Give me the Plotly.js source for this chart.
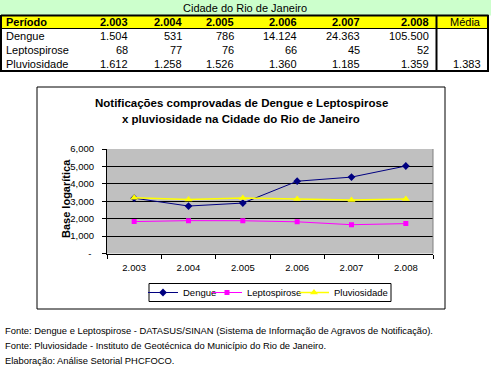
<!DOCTYPE html>
<html><head><meta charset="utf-8">
<script src="https://cdn.plot.ly/plotly-3.0.1.min.js"></script>
<style>html,body{margin:0;padding:0;background:#fff}#chart{width:491px;height:369px}</style>
</head><body><div id="chart"></div>
<script>
const years = ['2.003','2.004','2.005','2.006','2.007','2.008'];
const dengue = [1504, 531, 786, 14124, 24363, 105500];
const lepto = [68, 77, 76, 66, 45, 52];
const pluv = [1612, 1258, 1526, 1360, 1185, 1359];
const pluvMedia = 1383;
const rowNames = ['Dengue', 'Leptospirose', 'Pluviosidade'];
const yTickVals = [0, 1000, 2000, 3000, 4000, 5000, 6000];
const yTickText = ['-\u00a0', '1,000', '2,000', '3,000', '4,000', '5,000', '6,000'];
const tableTitle = 'Cidade do Rio de Janeiro';
const chartTitle = ['Notificações comprovadas de Dengue e Leptospirose', 'x pluviosidade na Cidade do Rio de Janeiro'];
const yTitle = 'Base logarítica';
const notes = ['Fonte: Dengue e Leptospirose - DATASUS/SINAN (Sistema de Informação de Agravos de Notificação).',
  'Fonte: Pluviosidade - Instituto de Geotécnica do Município do Rio de Janeiro.',
  'Elaboração: Análise Setorial PHCFOCO.'];

const W = 491, H = 369;
const px = x => x / W, py = y => 1 - y / H;
const fmt = v => String(v).replace(/\B(?=(\d{3})+(?!\d))/g, '.');
const logv = arr => arr.map(v => 1000 * Math.log10(v));
const FONT = 'Liberation Sans, Arial, sans-serif';

const shapes = [];
const ann = [];
function rect(x0, y0, x1, y1, fill, lc, lw, layer) {
  shapes.push({type: 'rect', xref: 'paper', yref: 'paper', x0: px(x0), x1: px(x1), y0: py(y0), y1: py(y1),
    fillcolor: fill || 'rgba(0,0,0,0)', line: {color: lc || 'rgba(0,0,0,0)', width: lw || 0}, layer: layer || 'above'});
}
function line(x0, y0, x1, y1, c, w) {
  shapes.push({type: 'line', xref: 'paper', yref: 'paper', x0: px(x0), x1: px(x1), y0: py(y0), y1: py(y1),
    line: {color: c, width: w}});
}
function text(t, x, y, anchor, size, bold, angle) {
  ann.push({text: bold ? '<b>' + t + '</b>' : t, x: px(x), y: py(y), xref: 'paper', yref: 'paper',
    xanchor: anchor, yanchor: 'middle', showarrow: false, textangle: angle || 0,
    font: {family: FONT, size: size, color: '#000'}});
}

// table
rect(0, 0, 491, 15.5, '#CCFFCC');
rect(1, 15.5, 488, 28.5, '#FFFF00');
line(1, 15.5, 488.5, 15.5, '#000', 2);
line(1, 28.5, 488.5, 28.5, '#000', 1);
line(1, 15, 1, 72, '#000', 2);
line(488, 15, 488, 72, '#000', 2);
line(0, 71, 489, 71, '#000', 2);
line(436.5, 15, 436.5, 71, '#000', 2);
text(tableTitle, 245, 8, 'center', 11);
text('Período', 4, 22, 'left', 11, true);
const colRight = [129, 183, 235, 298, 361, 430];
const rowY = [36, 50, 64];
years.forEach((y, i) => text(y, colRight[i] + 1, 22, 'right', 11, true));
text('Média', 483, 22, 'right', 11);
[dengue, lepto, pluv].forEach((arr, r) => {
  text(rowNames[r], 4, rowY[r], 'left', 11);
  arr.forEach((v, i) => text(fmt(v), colRight[i] + 1, rowY[r], 'right', 11));
});
text(fmt(pluvMedia), 483, rowY[2], 'right', 11);

// chart box
rect(37, 87, 445, 309, null, '#000', 1);
text(chartTitle[0], 241, 103, 'center', 11.5, true);
text(chartTitle[1], 241, 119, 'center', 11.5, true);
text(yTitle, 66, 199, 'center', 11, true, -90);
line(433, 149, 433, 253.5, '#808080', 1);
// legend frame
rect(149, 283.5, 391, 301.5, null, '#000', 1);

notes.forEach((t, i) => text(t, 3, 330 + i * 15, 'left', 9.4));

const traces = [
  {name: 'Dengue', x: years, y: logv(dengue), mode: 'lines+markers', line: {color: '#000080', width: 1},
   marker: {symbol: 'diamond', size: 6, color: '#000080'}, legend: 'legend'},
  {name: 'Leptospirose', x: years, y: logv(lepto), mode: 'lines+markers', line: {color: '#FF00FF', width: 1},
   marker: {symbol: 'square', size: 5, color: '#FF00FF'}, legend: 'legend2'},
  {name: 'Pluviosidade', x: years, y: logv(pluv), mode: 'lines+markers', line: {color: '#FFFF00', width: 1.5},
   marker: {symbol: 'triangle-up', size: 7, color: '#FFFF00'}, legend: 'legend3'}
];

const legBase = {orientation: 'h', yanchor: 'middle', xanchor: 'left', y: py(292.5),
  borderwidth: 0, bgcolor: 'rgba(0,0,0,0)', font: {family: FONT, size: 9.5}, itemwidth: 30};

const layout = {
  width: W, height: H, margin: {l: 0, r: 0, t: 0, b: 0, pad: 0},
  paper_bgcolor: '#fff', plot_bgcolor: '#C0C0C0',
  font: {family: FONT, size: 9, color: '#000'},
  showlegend: true,
  legend: Object.assign({}, legBase, {x: px(143)}),
  legend2: Object.assign({}, legBase, {x: px(207)}),
  legend3: Object.assign({}, legBase, {x: px(294)}),
  xaxis: {type: 'category', domain: [px(107), px(433)], range: [-0.5, 5.5], showgrid: false,
    showline: true, linecolor: '#000', linewidth: 1, ticks: 'outside', tickson: 'boundaries',
    ticklen: 4, tickcolor: '#000', tickfont: {family: FONT, size: 9.5}, zeroline: false,
    ticklabelstandoff: 5, fixedrange: true},
  yaxis: {domain: [py(253.5), py(149)], range: [0, 6000], tickvals: yTickVals, ticktext: yTickText,
    showgrid: true, gridcolor: '#000', gridwidth: 1, showline: true, linecolor: '#000', linewidth: 1,
    ticks: 'outside', ticklen: 4, tickcolor: '#000', zeroline: false, ticklabelstandoff: 6,
    tickfont: {family: FONT, size: 9.5}, fixedrange: true},
  shapes: shapes, annotations: ann
};
Plotly.newPlot('chart', traces, layout, {staticPlot: true, displayModeBar: false});
</script></body></html>
